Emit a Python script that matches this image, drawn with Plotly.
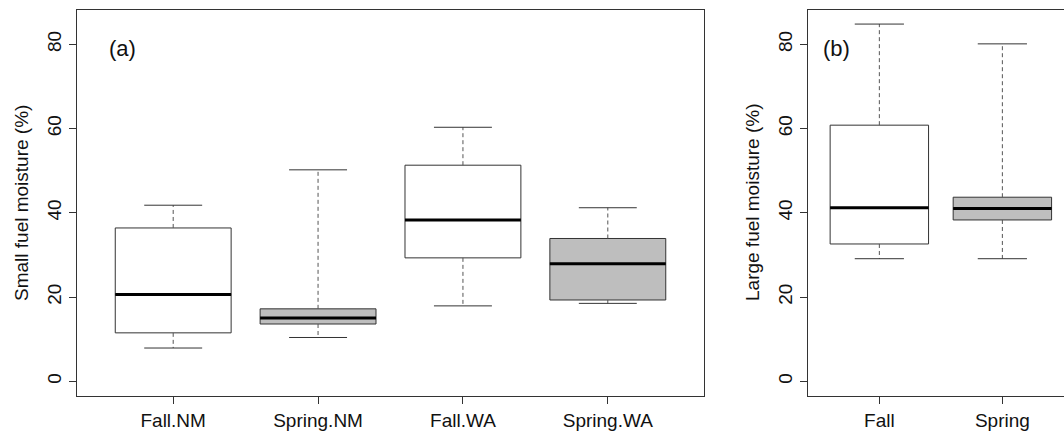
import plotly.graph_objects as go

# ---- data ----
cats_a = ["Fall.NM", "Spring.NM", "Fall.WA", "Spring.WA"]
low_a = [7.9, 10.4, 17.9, 18.5]
q1_a = [11.5, 13.6, 29.3, 19.3]
med_a = [20.6, 15.0, 38.3, 27.9]
q3_a = [36.4, 17.2, 51.3, 33.9]
high_a = [41.8, 50.2, 60.3, 41.2]
fill_a = ["white", "#BEBEBE", "white", "#BEBEBE"]

cats_b = ["Fall", "Spring"]
low_b = [29.1, 29.1]
q1_b = [32.6, 38.3]
med_b = [41.2, 41.0]
q3_b = [60.8, 43.7]
high_b = [84.8, 80.1]
fill_b = ["white", "#BEBEBE"]

yticks = [0, 20, 40, 60, 80]

FONT = "Liberation Sans, Arial, sans-serif"
LINE = "#333333"
BOXW = 0.8
STAPLE = 0.4

fig = go.Figure()


def add_panel(cats, low, q1, med, q3, high, fills, xa, ya):
    for i, c in enumerate(cats):
        xi = i + 1
        fig.add_trace(go.Box(
            x=[xi], q1=[q1[i]], median=[med[i]], q3=[q3[i]],
            lowerfence=[q1[i]], upperfence=[q3[i]],
            width=BOXW, fillcolor=fills[i], whiskerwidth=0,
            line=dict(color=LINE, width=1), boxpoints=False,
            xaxis=xa, yaxis=ya, showlegend=False, name=c))
        # dashed whiskers
        fig.add_trace(go.Scatter(
            x=[xi, xi, None, xi, xi], y=[q3[i], high[i], None, q1[i], low[i]],
            mode="lines", line=dict(color="#555555", width=1, dash="4px,3px"),
            xaxis=xa, yaxis=ya, showlegend=False, hoverinfo="skip"))
        # staples
        fig.add_trace(go.Scatter(
            x=[xi - STAPLE / 2, xi + STAPLE / 2, None, xi - STAPLE / 2, xi + STAPLE / 2],
            y=[high[i], high[i], None, low[i], low[i]],
            mode="lines", line=dict(color=LINE, width=1),
            xaxis=xa, yaxis=ya, showlegend=False, hoverinfo="skip"))
        # thick median
        fig.add_trace(go.Scatter(
            x=[xi - BOXW / 2, xi + BOXW / 2], y=[med[i], med[i]],
            mode="lines", line=dict(color="black", width=3),
            xaxis=xa, yaxis=ya, showlegend=False, hoverinfo="skip"))


add_panel(cats_a, low_a, q1_a, med_a, q3_a, high_a, fill_a, "x", "y")
add_panel(cats_b, low_b, q1_b, med_b, q3_b, high_b, fill_b, "x2", "y2")

W, H = 1064, 431
ydom = [35 / H, 421 / H]
yrange = [-3.49, 88.14]

axis_common = dict(showgrid=False, zeroline=False, showline=True, linecolor=LINE,
                   linewidth=1, ticks="outside", ticklen=7, tickcolor=LINE,
                   tickfont=dict(family=FONT, size=19, color="#111111"))

fig.update_layout(
    width=W, height=H, margin=dict(l=0, r=0, t=0, b=0),
    paper_bgcolor="white", plot_bgcolor="white",
    font=dict(family=FONT, size=19, color="#111111"),
    xaxis=dict(domain=[77 / W, 704 / W], range=[0.336, 4.664], anchor="y",
               tickvals=[1, 2, 3, 4], ticktext=cats_a, mirror=True, **axis_common),
    yaxis=dict(domain=ydom, range=yrange, anchor="x", tickvals=yticks,
               tickangle=-90, mirror=True, **axis_common),
    xaxis2=dict(domain=[808 / W, 1.0], range=[0.42, 2.501], anchor="y2",
                tickvals=[1, 2], ticktext=cats_b, mirror=True, **axis_common),
    yaxis2=dict(domain=ydom, range=yrange, anchor="x2", tickvals=yticks,
                tickangle=-90, mirror=False, **axis_common),
    annotations=[
        dict(text="Small fuel moisture (%)", x=22 / W, y=(H - 203) / H, xref="paper", yref="paper",
             textangle=-90, showarrow=False, xanchor="center", yanchor="middle",
             font=dict(family=FONT, size=19, color="#111111")),
        dict(text="Large fuel moisture (%)", x=753 / W, y=(H - 203) / H, xref="paper", yref="paper",
             textangle=-90, showarrow=False, xanchor="center", yanchor="middle",
             font=dict(family=FONT, size=19, color="#111111")),
        dict(text="(a)", x=122 / W, y=(H - 48) / H, xref="paper", yref="paper",
             showarrow=False, xanchor="center", yanchor="middle",
             font=dict(family=FONT, size=22, color="#111111")),
        dict(text="(b)", x=836 / W, y=(H - 48) / H, xref="paper", yref="paper",
             showarrow=False, xanchor="center", yanchor="middle",
             font=dict(family=FONT, size=22, color="#111111")),
    ],
)

fig.write_html("out.html")
